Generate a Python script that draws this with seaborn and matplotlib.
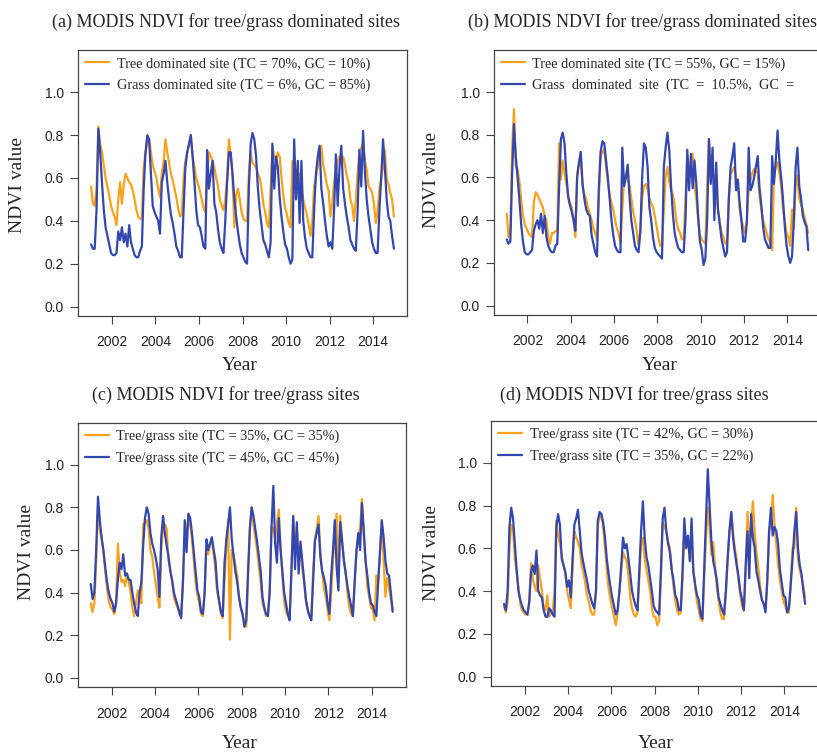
import numpy as np
import pandas as pd
import seaborn as sns
import matplotlib.pyplot as plt

# monthly NDVI values, one row per year 2001..2014
a_tree = [
    0.56, 0.48, 0.47, 0.55, 0.84, 0.76, 0.72, 0.66, 0.60, 0.56, 0.52, 0.47,
    0.44, 0.42, 0.38, 0.50, 0.58, 0.48, 0.57, 0.62, 0.60, 0.58, 0.57, 0.54,
    0.50, 0.45, 0.42, 0.41, 0.41, 0.65, 0.72, 0.76, 0.78, 0.72, 0.66, 0.63,
    0.60, 0.55, 0.51, 0.62, 0.68, 0.78, 0.72, 0.67, 0.62, 0.59, 0.55, 0.51,
    0.46, 0.42, 0.43, 0.60, 0.68, 0.72, 0.75, 0.80, 0.70, 0.65, 0.60, 0.57,
    0.54, 0.50, 0.46, 0.44, 0.62, 0.72, 0.70, 0.68, 0.65, 0.60, 0.56, 0.50,
    0.47, 0.45, 0.50, 0.60, 0.78, 0.70, 0.60, 0.37, 0.52, 0.55, 0.50, 0.44,
    0.41, 0.40, 0.40, 0.62, 0.72, 0.67, 0.66, 0.65, 0.62, 0.60, 0.55, 0.48,
    0.44, 0.39, 0.37, 0.55, 0.75, 0.70, 0.68, 0.72, 0.70, 0.60, 0.52, 0.46,
    0.43, 0.39, 0.37, 0.68, 0.60, 0.56, 0.60, 0.62, 0.55, 0.50, 0.46, 0.43,
    0.38, 0.33, 0.40, 0.56, 0.60, 0.65, 0.70, 0.75, 0.66, 0.62, 0.57, 0.54,
    0.42, 0.48, 0.58, 0.63, 0.68, 0.70, 0.68, 0.70, 0.66, 0.61, 0.58, 0.50,
    0.47, 0.40, 0.50, 0.62, 0.73, 0.74, 0.76, 0.68, 0.64, 0.56, 0.55, 0.53,
    0.48, 0.39, 0.45, 0.55, 0.60, 0.65, 0.73, 0.60, 0.57, 0.53, 0.50, 0.42,
]
a_grass = [
    0.29, 0.27, 0.27, 0.45, 0.83, 0.72, 0.58, 0.45, 0.37, 0.33, 0.29, 0.25,
    0.24, 0.24, 0.25, 0.35, 0.31, 0.37, 0.30, 0.34, 0.28, 0.38, 0.30, 0.27,
    0.24, 0.23, 0.23, 0.26, 0.28, 0.55, 0.72, 0.80, 0.78, 0.62, 0.47, 0.44,
    0.42, 0.40, 0.34, 0.58, 0.62, 0.68, 0.58, 0.50, 0.43, 0.39, 0.34, 0.28,
    0.26, 0.23, 0.23, 0.45, 0.65, 0.72, 0.76, 0.80, 0.70, 0.58, 0.45, 0.38,
    0.37, 0.33, 0.28, 0.27, 0.73, 0.55, 0.62, 0.68, 0.48, 0.44, 0.36, 0.30,
    0.27, 0.25, 0.40, 0.58, 0.72, 0.72, 0.62, 0.50, 0.42, 0.35, 0.29, 0.25,
    0.23, 0.21, 0.20, 0.55, 0.76, 0.81, 0.78, 0.70, 0.55, 0.45, 0.38, 0.31,
    0.29, 0.26, 0.23, 0.30, 0.76, 0.55, 0.70, 0.65, 0.51, 0.42, 0.35, 0.29,
    0.27, 0.23, 0.20, 0.22, 0.78, 0.50, 0.68, 0.39, 0.68, 0.40, 0.32, 0.27,
    0.25, 0.23, 0.23, 0.45, 0.62, 0.70, 0.75, 0.55, 0.48, 0.40, 0.33, 0.28,
    0.30, 0.27, 0.45, 0.71, 0.47, 0.65, 0.75, 0.55, 0.48, 0.42, 0.37, 0.31,
    0.29, 0.27, 0.26, 0.45, 0.73, 0.56, 0.82, 0.63, 0.50, 0.42, 0.36, 0.30,
    0.27, 0.25, 0.25, 0.45, 0.60, 0.78, 0.65, 0.50, 0.42, 0.40, 0.33, 0.27,
]
b_tree = [
    0.43, 0.32, 0.35, 0.73, 0.92, 0.65, 0.64, 0.58, 0.50, 0.42, 0.38, 0.36,
    0.34, 0.33, 0.32, 0.48, 0.53, 0.52, 0.50, 0.48, 0.46, 0.42, 0.40, 0.32,
    0.29, 0.34, 0.34, 0.35, 0.35, 0.76, 0.59, 0.68, 0.62, 0.57, 0.52, 0.48,
    0.46, 0.40, 0.32, 0.62, 0.66, 0.68, 0.56, 0.52, 0.50, 0.46, 0.43, 0.40,
    0.36, 0.34, 0.31, 0.50, 0.70, 0.72, 0.73, 0.65, 0.58, 0.52, 0.48, 0.45,
    0.40, 0.36, 0.34, 0.29, 0.45, 0.59, 0.62, 0.59, 0.56, 0.50, 0.44, 0.40,
    0.35, 0.28, 0.35, 0.50, 0.56, 0.57, 0.55, 0.50, 0.48, 0.46, 0.42, 0.37,
    0.32, 0.28, 0.28, 0.45, 0.60, 0.65, 0.58, 0.54, 0.52, 0.47, 0.39, 0.36,
    0.34, 0.31, 0.31, 0.50, 0.70, 0.60, 0.65, 0.71, 0.56, 0.50, 0.40, 0.33,
    0.31, 0.30, 0.29, 0.55, 0.78, 0.65, 0.62, 0.60, 0.52, 0.45, 0.39, 0.34,
    0.32, 0.29, 0.30, 0.50, 0.62, 0.63, 0.65, 0.60, 0.56, 0.45, 0.40, 0.37,
    0.34, 0.40, 0.55, 0.59, 0.62, 0.64, 0.63, 0.62, 0.51, 0.45, 0.40, 0.37,
    0.34, 0.31, 0.30, 0.26, 0.60, 0.65, 0.67, 0.62, 0.56, 0.45, 0.40, 0.34,
    0.32, 0.28, 0.45, 0.36, 0.56, 0.61, 0.50, 0.47, 0.45, 0.41, 0.38, 0.34,
]
b_grass = [
    0.31, 0.29, 0.30, 0.62, 0.85, 0.70, 0.60, 0.50, 0.38, 0.30, 0.25, 0.24,
    0.24, 0.25, 0.26, 0.35, 0.38, 0.40, 0.36, 0.43, 0.34, 0.42, 0.32, 0.28,
    0.26, 0.25, 0.25, 0.28, 0.29, 0.55, 0.78, 0.81, 0.76, 0.62, 0.51, 0.47,
    0.44, 0.40, 0.35, 0.60, 0.67, 0.72, 0.57, 0.50, 0.45, 0.43, 0.42, 0.33,
    0.29, 0.25, 0.23, 0.55, 0.72, 0.77, 0.76, 0.68, 0.60, 0.50, 0.40, 0.33,
    0.28, 0.26, 0.25, 0.25, 0.74, 0.56, 0.60, 0.66, 0.51, 0.40, 0.34, 0.28,
    0.26, 0.25, 0.35, 0.60, 0.76, 0.74, 0.65, 0.46, 0.40, 0.32, 0.27, 0.25,
    0.24, 0.23, 0.22, 0.65, 0.74, 0.81, 0.73, 0.56, 0.43, 0.34, 0.30, 0.27,
    0.26, 0.25, 0.25, 0.40, 0.73, 0.54, 0.71, 0.55, 0.68, 0.57, 0.42, 0.30,
    0.26, 0.19, 0.22, 0.40, 0.78, 0.57, 0.74, 0.40, 0.67, 0.45, 0.38, 0.31,
    0.27, 0.23, 0.25, 0.50, 0.65, 0.70, 0.76, 0.54, 0.59, 0.48, 0.40, 0.30,
    0.30, 0.39, 0.74, 0.54, 0.56, 0.60, 0.65, 0.70, 0.55, 0.47, 0.37, 0.31,
    0.29, 0.27, 0.27, 0.70, 0.57, 0.68, 0.82, 0.68, 0.60, 0.50, 0.37, 0.28,
    0.23, 0.20, 0.23, 0.40, 0.65, 0.74, 0.56, 0.50, 0.42, 0.39, 0.37, 0.26,
]
c_site1 = [
    0.35, 0.31, 0.35, 0.55, 0.78, 0.70, 0.65, 0.59, 0.50, 0.42, 0.36, 0.33,
    0.32, 0.30, 0.35, 0.63, 0.50, 0.45, 0.46, 0.43, 0.49, 0.45, 0.40, 0.33,
    0.29, 0.35, 0.41, 0.40, 0.35, 0.72, 0.73, 0.74, 0.70, 0.60, 0.57, 0.50,
    0.44, 0.38, 0.33, 0.60, 0.70, 0.72, 0.70, 0.55, 0.51, 0.45, 0.38, 0.35,
    0.33, 0.30, 0.29, 0.45, 0.65, 0.68, 0.75, 0.72, 0.65, 0.55, 0.45, 0.39,
    0.35, 0.30, 0.29, 0.40, 0.62, 0.58, 0.63, 0.64, 0.58, 0.50, 0.40, 0.36,
    0.30, 0.28, 0.45, 0.62, 0.74, 0.18, 0.60, 0.58, 0.53, 0.48, 0.38, 0.33,
    0.29, 0.26, 0.24, 0.45, 0.69, 0.80, 0.72, 0.66, 0.60, 0.52, 0.45, 0.35,
    0.32, 0.29, 0.29, 0.42, 0.71, 0.70, 0.65, 0.72, 0.79, 0.62, 0.48, 0.36,
    0.31, 0.29, 0.28, 0.50, 0.76, 0.57, 0.71, 0.56, 0.60, 0.51, 0.45, 0.36,
    0.32, 0.29, 0.29, 0.50, 0.65, 0.70, 0.76, 0.59, 0.50, 0.42, 0.38, 0.32,
    0.27, 0.40, 0.55, 0.66, 0.77, 0.46, 0.76, 0.66, 0.56, 0.50, 0.40, 0.33,
    0.30, 0.29, 0.45, 0.60, 0.66, 0.70, 0.84, 0.66, 0.55, 0.43, 0.38, 0.33,
    0.32, 0.27, 0.48, 0.45, 0.59, 0.73, 0.55, 0.38, 0.47, 0.42, 0.37, 0.32,
]
c_site2 = [
    0.44, 0.37, 0.40, 0.60, 0.85, 0.74, 0.66, 0.60, 0.52, 0.45, 0.40, 0.37,
    0.35, 0.31, 0.35, 0.46, 0.54, 0.51, 0.58, 0.48, 0.49, 0.46, 0.46, 0.40,
    0.35, 0.31, 0.29, 0.40, 0.45, 0.62, 0.75, 0.80, 0.77, 0.68, 0.63, 0.60,
    0.56, 0.51, 0.38, 0.66, 0.76, 0.68, 0.62, 0.57, 0.50, 0.46, 0.40, 0.37,
    0.34, 0.31, 0.28, 0.45, 0.74, 0.59, 0.77, 0.75, 0.68, 0.59, 0.50, 0.41,
    0.38, 0.31, 0.30, 0.40, 0.65, 0.60, 0.63, 0.66, 0.60, 0.55, 0.42, 0.36,
    0.31, 0.29, 0.54, 0.65, 0.72, 0.80, 0.65, 0.57, 0.50, 0.45, 0.38, 0.33,
    0.30, 0.24, 0.27, 0.50, 0.70, 0.80, 0.76, 0.70, 0.64, 0.57, 0.50, 0.38,
    0.33, 0.30, 0.29, 0.40, 0.71, 0.90, 0.63, 0.54, 0.75, 0.60, 0.50, 0.40,
    0.35, 0.30, 0.27, 0.50, 0.76, 0.51, 0.73, 0.49, 0.64, 0.55, 0.46, 0.37,
    0.32, 0.29, 0.27, 0.45, 0.64, 0.68, 0.72, 0.57, 0.50, 0.47, 0.43, 0.35,
    0.30, 0.48, 0.60, 0.74, 0.52, 0.41, 0.73, 0.64, 0.55, 0.49, 0.43, 0.38,
    0.34, 0.29, 0.45, 0.60, 0.68, 0.60, 0.82, 0.70, 0.55, 0.48, 0.40, 0.35,
    0.34, 0.31, 0.29, 0.45, 0.59, 0.74, 0.66, 0.55, 0.49, 0.48, 0.40, 0.31,
]
d_site1 = [
    0.33, 0.30, 0.35, 0.60, 0.71, 0.70, 0.55, 0.49, 0.42, 0.34, 0.31, 0.30,
    0.29, 0.29, 0.35, 0.53, 0.46, 0.42, 0.40, 0.52, 0.46, 0.40, 0.32, 0.31,
    0.38, 0.28, 0.30, 0.30, 0.40, 0.73, 0.66, 0.62, 0.57, 0.52, 0.48, 0.40,
    0.36, 0.32, 0.50, 0.68, 0.65, 0.63, 0.60, 0.52, 0.49, 0.44, 0.38, 0.35,
    0.31, 0.29, 0.29, 0.40, 0.71, 0.74, 0.76, 0.70, 0.60, 0.50, 0.41, 0.36,
    0.32, 0.28, 0.24, 0.30, 0.40, 0.49, 0.58, 0.56, 0.54, 0.47, 0.37, 0.32,
    0.29, 0.28, 0.30, 0.45, 0.62, 0.65, 0.55, 0.50, 0.45, 0.40, 0.32, 0.28,
    0.28, 0.24, 0.26, 0.45, 0.72, 0.70, 0.68, 0.63, 0.60, 0.50, 0.42, 0.35,
    0.31, 0.29, 0.30, 0.45, 0.68, 0.63, 0.62, 0.60, 0.58, 0.50, 0.42, 0.35,
    0.31, 0.27, 0.26, 0.45, 0.65, 0.79, 0.70, 0.57, 0.63, 0.52, 0.42, 0.35,
    0.30, 0.27, 0.27, 0.38, 0.55, 0.68, 0.77, 0.68, 0.60, 0.55, 0.45, 0.38,
    0.33, 0.31, 0.50, 0.77, 0.63, 0.70, 0.82, 0.68, 0.58, 0.51, 0.43, 0.36,
    0.34, 0.32, 0.45, 0.68, 0.72, 0.85, 0.71, 0.62, 0.52, 0.45, 0.40, 0.35,
    0.33, 0.30, 0.30, 0.45, 0.60, 0.60, 0.79, 0.55, 0.50, 0.46, 0.42, 0.37,
]
d_site2 = [
    0.34, 0.31, 0.40, 0.70, 0.79, 0.74, 0.62, 0.50, 0.40, 0.36, 0.33, 0.31,
    0.30, 0.29, 0.35, 0.49, 0.52, 0.48, 0.59, 0.40, 0.38, 0.37, 0.31, 0.28,
    0.28, 0.32, 0.31, 0.29, 0.28, 0.70, 0.76, 0.71, 0.55, 0.52, 0.49, 0.42,
    0.45, 0.37, 0.55, 0.71, 0.74, 0.78, 0.68, 0.58, 0.53, 0.49, 0.45, 0.40,
    0.37, 0.34, 0.32, 0.40, 0.73, 0.77, 0.76, 0.72, 0.65, 0.55, 0.48, 0.42,
    0.37, 0.33, 0.29, 0.31, 0.40, 0.52, 0.65, 0.60, 0.62, 0.55, 0.48, 0.40,
    0.36, 0.33, 0.31, 0.50, 0.68, 0.82, 0.65, 0.56, 0.52, 0.46, 0.40, 0.33,
    0.31, 0.30, 0.29, 0.50, 0.74, 0.79, 0.68, 0.62, 0.58, 0.50, 0.45, 0.38,
    0.36, 0.31, 0.31, 0.50, 0.74, 0.60, 0.66, 0.54, 0.74, 0.49, 0.43, 0.38,
    0.36, 0.29, 0.27, 0.50, 0.74, 0.97, 0.80, 0.63, 0.54, 0.50, 0.45, 0.37,
    0.34, 0.31, 0.29, 0.40, 0.55, 0.68, 0.77, 0.65, 0.58, 0.52, 0.47, 0.40,
    0.36, 0.31, 0.52, 0.68, 0.46, 0.76, 0.65, 0.60, 0.49, 0.45, 0.40, 0.36,
    0.34, 0.30, 0.45, 0.68, 0.79, 0.66, 0.70, 0.68, 0.62, 0.50, 0.44, 0.38,
    0.37, 0.30, 0.32, 0.43, 0.55, 0.68, 0.77, 0.60, 0.52, 0.48, 0.40, 0.34,
]

years = 2001 + (np.arange(len(a_tree)) + 0.5) / 12

titles = ["(a) MODIS NDVI for tree/grass dominated sites",
          "(b) MODIS NDVI for tree/grass dominated sites",
          "(c) MODIS NDVI for tree/grass sites",
          "(d) MODIS NDVI for tree/grass sites"]
labels = [("Tree dominated site (TC = 70%, GC = 10%)", "Grass dominated site (TC = 6%, GC = 85%)"),
          ("Tree dominated site (TC = 55%, GC = 15%)", "Grass  dominated  site  (TC  =  10.5%,  GC  ="),
          ("Tree/grass site (TC = 35%, GC = 35%)", "Tree/grass site (TC = 45%, GC = 45%)"),
          ("Tree/grass site (TC = 42%, GC = 30%)", "Tree/grass site (TC = 35%, GC = 22%)")]
series = [(a_tree, a_grass), (b_tree, b_grass), (c_site1, c_site2), (d_site1, d_site2)]

ORANGE = "#F6A21C"
BLUE = "#3447AE"
W, H = 817, 753

sns.set_style("ticks")
plt.rcParams["font.family"] = ["Liberation Serif", "DejaVu Serif"]

fig = plt.figure(figsize=(W / 100, H / 100), dpi=100)

# pixel boxes: left, top, right, bottom
boxes = [(78, 50, 407, 316), (493.7, 50, 821.3, 315),
         (77.7, 422.7, 405.7, 687.3), (491, 420.7, 818.2, 686)]
title_pos = [(225.5, 22), (643, 22), (226, 395), (634, 395)]
ylab_pos = [(18, 185), (431, 180), (27, 552), (431, 553)]
xlab_pos = [(240, 365), (660, 365), (240, 743), (656, 743)]

for i, (l, t, r, b) in enumerate(boxes):
    ax = fig.add_axes([l / W, 1 - b / H, (r - l) / W, (b - t) / H])
    df = pd.DataFrame({"year": years, "first": series[i][0], "second": series[i][1]})
    sns.lineplot(data=df, x="year", y="first", ax=ax, color=ORANGE, lw=1.6,
                 estimator=None, label=labels[i][0])
    sns.lineplot(data=df, x="year", y="second", ax=ax, color=BLUE, lw=1.6,
                 estimator=None, label=labels[i][1])
    ax.set_xlim(2000.44, 2015.56)
    ax.set_ylim(-0.044, 1.197)
    ax.set_xticks(range(2002, 2015, 2))
    ax.set_yticks([0.0, 0.2, 0.4, 0.6, 0.8, 1.0])
    ax.set_yticklabels([f"{v:.1f}" for v in ax.get_yticks()])
    ax.set_xlabel("")
    ax.set_ylabel("")
    for s in ax.spines.values():
        s.set_visible(True)
        s.set_color("#444444")
        s.set_linewidth(0.9)
    ax.tick_params(axis="both", direction="out", length=6, width=0.8,
                   color="#444444", labelsize=10, labelcolor="#222222",
                   bottom=True, left=True, top=False, right=False)
    ax.tick_params(axis="x", pad=8)
    ax.tick_params(axis="y", pad=4)
    for lab in ax.get_xticklabels() + ax.get_yticklabels():
        lab.set_family(["Liberation Sans", "DejaVu Sans"])
    ax.legend(loc="upper left", bbox_to_anchor=(0.0, 1.0), frameon=False,
              fontsize=10.3, handlelength=1.7, handletextpad=0.5,
              labelspacing=0.55, borderaxespad=0.2, borderpad=0.3)

    tx, ty = title_pos[i]
    fig.text(tx / W, 1 - ty / H, titles[i], ha="center", va="center", fontsize=13)
    yx, yy = ylab_pos[i]
    fig.text(yx / W, 1 - yy / H, "NDVI value", ha="center", va="center",
             rotation=90, fontsize=14)
    xx, xy = xlab_pos[i]
    fig.text(xx / W, 1 - xy / H, "Year", ha="center", va="center", fontsize=14)

fig.savefig("out.png", dpi=100, facecolor="white")
